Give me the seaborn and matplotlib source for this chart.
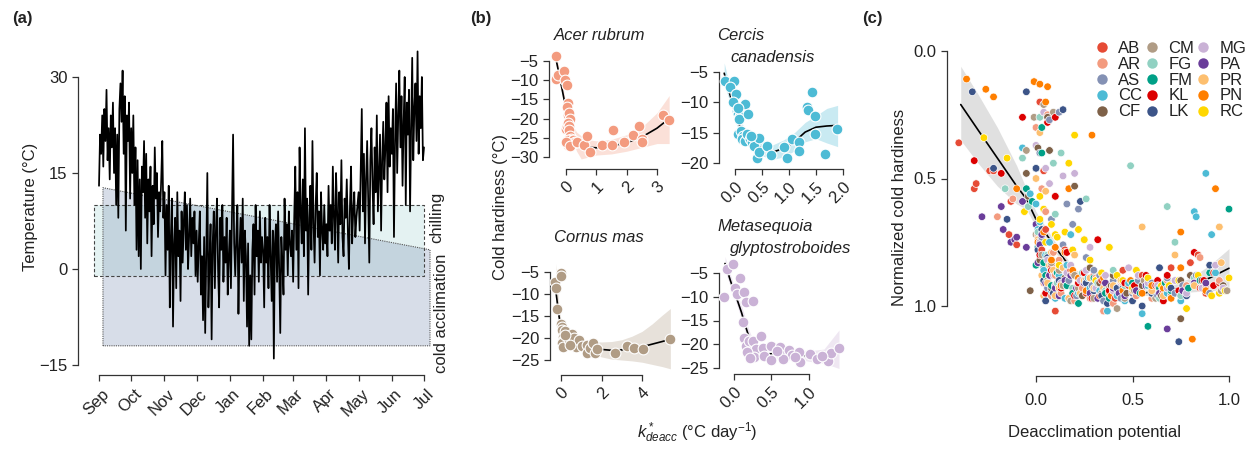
import numpy as np
import pandas as pd
import matplotlib.pyplot as plt
import seaborn as sns
from matplotlib.lines import Line2D
from matplotlib.transforms import ScaledTranslation

# ---- panel (a): daily temperature, 1 Sep to 1 Jul ----
temp_sep = [13, 21, 18, 24, 16, 25, 20, 28, 17, 22, 14, 24, 19, 26, 15, 22, 10, 21, 8, 25, 29, 23, 31, 18, 27, 6, 24, 20, 26, 11]
temp_oct = [22, 15, 24, 10, 19, 3, 17, 2, 14, 0, 16, 12, 20, 8, 18, 4, 14, 9, 16, 2, 13, 7, 19, 11, 15, 5, 12, 9, 14, 20, 8]
temp_nov = [12, -1, 10, 3, 13, -6, 5, 11, -9, 4, 8, -3, 12, 2, 6, -5, 9, 1, 7, 12, 3, 10, 0, 5, 11, 2, 8, 4, 9, -1]
temp_dec = [6, -2, 4, 9, -4, 2, -8, 5, -10, 3, 15, -6, 1, 7, -11, 4, 9, -3, 6, 11, 0, -6, 8, 3, 10, -2, 5, 1, 8, -4, 2]
temp_jan = [6, -3, 9, 21, 4, -1, 5, 10, -7, 3, 8, 1, 11, -5, 6, 2, -9, 4, -12, -1, -11, 3, 7, -4, 10, 2, 6, -2, 9, 1, 5]
temp_feb = [3, -6, 8, 1, 5, -3, 10, 2, -5, 6, -14, 4, 7, -2, 9, 0, -10, 5, 1, -4, 11, 3, 7, -1, 9, 4, 2, 6]
temp_mar = [-2, 8, 16, 3, 12, -3, 19, 9, 4, 14, 2, 22, 6, 11, -4, 8, 13, 3, 20, 7, 1, 10, 15, 5, 9, -1, 12, 6, 3, 10, 4]
temp_apr = [7, 2, 13, 6, 10, 4, 16, 8, 3, 15, 9, 1, 12, 7, 17, 5, 2, 11, 8, 14, 6, 0, 10, 16, 4, 9, 12, 5, 8, 10]
temp_may = [12, 6, 16, 25, 9, 18, 4, 14, 20, 10, 1, 17, 22, 13, 7, 19, 12, 24, 9, 15, 21, 6, 17, 23, 14, 19, 26, 12, 27, 16, 22]
temp_jun = [18, 25, 5, 20, 29, 15, 24, 31, 19, 27, 13, 23, 30, 10, 26, 21, 28, 9, 22, 33, 17, 25, 29, 20, 34, 18, 27, 22, 30, 17]
temp_jul = [19]
month_labels = ['Sep', 'Oct', 'Nov', 'Dec', 'Jan', 'Feb', 'Mar', 'Apr', 'May', 'Jun', 'Jul']
month_days = [0, 30, 61, 91, 122, 153, 181, 212, 242, 273, 303]

# shaded temperature windows
chill_x = [-4.7, 303]
chill_y = [-1.1, 10]
accl_x = [3.7, 3.7, 308.6, 308.6]
accl_y = [-12, 12.7, 3.0, -12]

# ---- panel (b): cold hardiness vs k*deacc for four species ----
ar_x = [-0.33, -0.33, -0.27, -0.08, -0.02, 0.03, 0.05, 0.04, 0.08, 0.10, 0.12, 0.0, 0.02, 0.06, 0.09, 0.11, 0.14, 0.17, 0.20, 0.05,
        0.08, 0.15, 0.22, 0.26, 0.30, 0.00, 0.12, 0.35, 0.58, 0.70, 0.78, 1.20, 1.50, 1.55, 1.90, 2.20, 2.40, 2.50, 2.50, 3.20, 3.40]
ar_y = [-3.6, -9.7, -8.7, -7.5, -10.0, -11.3, -16.0, -17.0, -19.0, -18.5, -20.2, -22.7, -21.8, -21.2, -22.0, -23.0, -24.5, -25.2, -26.0, -25.6,
        -26.8, -26.0, -25.5, -26.4, -26.0, -26.2, -27.2, -26.0, -26.8, -24.5, -28.7, -27.0, -27.0, -23.0, -26.0, -24.4, -21.8, -25.2, -26.0, -19.0, -20.3]
ar_fit_x = [-0.33, -0.2, -0.1, 0.0, 0.1, 0.2, 0.35, 0.5, 0.75, 1.0, 1.5, 2.0, 2.5, 3.0, 3.4]
ar_fit_y = [-4.5, -9.5, -13.5, -17.5, -21.0, -23.5, -25.8, -26.8, -27.5, -27.6, -27.2, -26.3, -24.8, -22.5, -20.0]
ar_lo = [-6, -11, -15, -19, -22.5, -25.5, -28.5, -30.5, -30.0, -29.5, -29.2, -28.5, -27.5, -26.5, -26.5]
ar_hi = [-3, -8, -12, -16, -19.5, -21.5, -23.5, -24.5, -25.5, -25.8, -25.4, -24.2, -22.2, -18.5, -14.0]

cc_x = [-0.19, -0.02, -0.10, 0.02, -0.03, 0.04, 0.06, 0.08, 0.10, 0.05, 0.12, 0.15, 0.08, 0.19, 0.25, 0.13, 0.18, 0.22, 0.28, 0.32,
        0.35, 0.40, 0.44, 0.44, 0.60, 0.66, 0.90, 0.96, 1.05, 1.19, 1.19, 1.34, 1.36, 1.42, 1.48, 1.48, 1.67, 1.88, 0.06, 0.30]
cc_y = [-6.5, -6.5, -7.5, -8.7, -10.0, -11.5, -12.0, -12.6, -12.2, -15.2, -14.8, -15.5, -12.8, -10.2, -12.0, -16.0, -16.4, -15.2, -16.0, -16.5,
        -17.2, -19.2, -15.8, -18.2, -17.2, -18.6, -17.4, -19.2, -16.0, -16.6, -18.0, -10.7, -11.3, -8.3, -12.2, -15.2, -18.5, -14.4, -11.0, -15.6]
cc_fit_x = [-0.2, -0.1, 0.0, 0.1, 0.2, 0.35, 0.5, 0.7, 0.9, 1.1, 1.3, 1.5, 1.7, 1.9]
cc_fit_y = [-5.2, -8.5, -11.8, -14.2, -15.6, -16.8, -17.6, -18.2, -17.6, -16.5, -14.9, -14.1, -13.9, -13.8]
cc_lo = [-7.0, -9.8, -13.0, -15.3, -16.7, -17.9, -18.8, -19.4, -19.0, -18.0, -16.5, -16.0, -16.7, -17.3]
cc_hi = [-3.5, -7.2, -10.6, -13.1, -14.5, -15.7, -16.4, -17.0, -16.2, -15.0, -13.3, -12.2, -11.0, -10.5]

cm_x = [-0.30, -0.25, -0.20, -0.01, 0.02, 0.00, 0.03, 0.05, 0.08, 0.12, 0.15, 0.18, 0.22, 0.25, 0.30, 0.35, 0.05, 0.10, 0.40, 0.55,
        0.66, 0.74, 0.90, 1.05, 1.26, 1.26, 1.45, 1.59, 1.67, 1.79, 2.66, 3.24, 3.60, 4.06, 5.37, 0.20, 0.45]
cm_y = [-7.2, -8.7, -13.3, -5.2, -5.8, -16.8, -17.5, -18.2, -19.8, -20.6, -21.5, -18.5, -20.0, -20.2, -21.7, -21.0, -21.2, -22.0, -20.4, -19.2,
        -20.1, -22.0, -20.5, -21.8, -21.6, -23.3, -22.3, -21.2, -23.3, -22.4, -23.3, -21.9, -22.3, -22.4, -20.2, -19.3, -21.5]
cm_fit_x = [-0.25, -0.1, 0.0, 0.2, 0.5, 1.0, 1.5, 2.0, 2.5, 3.0, 3.5, 4.0, 4.5, 5.0, 5.4]
cm_fit_y = [-9.5, -15.0, -17.5, -19.3, -20.6, -21.6, -22.2, -22.6, -22.8, -22.7, -22.4, -22.0, -21.4, -20.8, -20.3]
cm_lo = [-12.5, -17.0, -19.0, -20.6, -21.8, -22.8, -23.6, -24.3, -24.8, -25.0, -25.2, -25.5, -26.0, -26.5, -27.0]
cm_hi = [-3.0, -13.0, -16.0, -18.0, -19.4, -20.4, -20.8, -20.9, -20.8, -20.4, -19.6, -18.5, -16.8, -14.8, -13.3]

mg_x = [-0.13, -0.09, -0.01, 0.01, 0.04, 0.08, 0.14, 0.16, 0.25, 0.12, 0.14, 0.16, 0.20, 0.25, 0.29, 0.36, 0.27, 0.18, 0.22, 0.39,
        0.50, 0.62, 0.68, 0.74, 0.78, 0.87, 0.88, 1.02, 1.11, 1.26, 1.30, 1.40, 0.40, 0.50, 0.65, 0.82, 1.18, 0.58]
mg_y = [-10.1, -4.2, -3.1, -8.1, -9.5, -6.0, -9.1, -11.1, -10.8, -15.4, -18.6, -20.4, -19.3, -19.3, -21.0, -18.2, -22.6, -21.6, -22.9, -20.8,
        -20.4, -20.5, -22.2, -21.3, -22.2, -21.7, -23.8, -22.1, -23.2, -23.6, -21.9, -20.7, -22.5, -23.4, -23.0, -22.6, -22.4, -21.4]
mg_fit_x = [-0.12, -0.05, 0.0, 0.05, 0.1, 0.15, 0.2, 0.25, 0.3, 0.4, 0.5, 0.6, 0.8, 1.0, 1.2, 1.4]
mg_fit_y = [-3.0, -6.5, -8.8, -11.0, -13.3, -16.0, -18.5, -20.3, -21.3, -22.1, -22.0, -21.8, -22.0, -22.5, -22.5, -20.9]
mg_lo = [-4.5, -7.8, -10.0, -12.3, -14.8, -17.6, -20.0, -21.6, -22.5, -23.2, -23.1, -22.9, -23.0, -23.6, -24.0, -25.1]
mg_hi = [-1.5, -5.2, -7.6, -9.7, -11.8, -14.4, -17.0, -19.0, -20.1, -21.0, -20.9, -20.7, -21.0, -21.4, -21.0, -17.0]

# ---- panel (c): normalized cold hardiness vs deacclimation potential ----
c_codes = ['AB', 'AR', 'AS', 'CC', 'CF', 'CM', 'FG', 'FM', 'KL', 'LK', 'MG', 'PA', 'PR', 'PN', 'RC']
c_colors = ['#E64B35', '#F39B7F', '#8491B4', '#4DBBD5', '#7E6148', '#B09C85', '#91D1C2', '#00A087',
            '#DC0000', '#3C5488', '#CAB2D6', '#6A3D9A', '#FDBF6F', '#FF7F00', '#FFD700']

ab_x = [-0.40, -0.32, -0.31, -0.24, -0.22, -0.13, -0.14, -0.10, 0.02, 0.04, 0.05, 0.08, 0.15, 0.22, 0.30, 0.45, 0.62, 0.70, 0.80, 0.84, 0.85, 0.88, 0.95, 0.10, 0.33,
        0.03, 0.07, 0.12, 0.18, 0.26, 0.34, 0.41, 0.48, 0.55, 0.66, 0.75, 0.92]
ab_y = [0.36, 0.54, 0.52, 0.47, 0.47, 0.59, 0.72, 0.76, 0.20, 0.47, 0.70, 0.84, 0.78, 0.92, 0.88, 0.86, 0.92, 0.85, 0.83, 0.80, 0.93, 0.95, 0.91, 1.02, 0.96,
        0.78, 0.88, 0.93, 0.86, 0.95, 0.90, 0.97, 0.92, 0.88, 0.94, 0.96, 0.87]
ar2_x = [-0.12, 0.00, 0.03, 0.05, 0.06, 0.08, 0.10, 0.12, 0.16, 0.20, 0.28, 0.35, 0.55, 0.78, 0.85, 0.95, -0.20, 0.02, 0.40, 0.60,
         0.01, 0.04, 0.09, 0.13, 0.19, 0.24, 0.31, 0.38, 0.45, 0.52, 0.68, 0.88]
ar2_y = [0.58, 0.30, 0.54, 0.63, 0.25, 0.96, 0.88, 0.82, 0.92, 0.98, 0.97, 1.02, 0.93, 0.92, 0.81, 0.90, 0.65, 0.76, 0.99, 0.97,
         0.72, 0.91, 0.79, 0.95, 0.87, 0.93, 0.89, 0.95, 0.91, 0.96, 0.90, 0.93]
as_x = [0.02, 0.07, 0.12, 0.16, 0.19, 0.22, 0.25, 0.08, 0.14, 0.30, 0.40, 0.50, 0.60, 0.68, 0.72, 0.83, 0.90, 0.35, 0.04, 0.26,
        0.03, 0.06, 0.11, 0.17, 0.21, 0.29, 0.33, 0.44, 0.53, 0.63, 0.76]
as_y = [0.40, 0.27, 0.24, 0.60, 0.68, 0.62, 0.74, 0.66, 0.76, 0.86, 0.90, 0.95, 0.91, 0.89, 0.95, 0.88, 0.95, 0.98, 0.85, 0.81,
        0.73, 0.93, 0.87, 0.90, 0.96, 0.92, 0.88, 0.97, 0.90, 0.96, 0.92]
cc2_x = [-0.07, -0.03, 0.00, 0.02, 0.05, 0.08, 0.12, 0.18, 0.28, 0.37, 0.42, 0.55, 0.75, 0.82, 0.83, 0.88, 0.91, 0.93, 0.48, 0.15,
         0.01, 0.04, 0.07, 0.10, 0.16, 0.22, 0.27, 0.33, 0.46, 0.58, 0.68]
cc2_y = [0.38, 0.56, 0.60, 0.67, 0.80, 0.94, 0.88, 0.72, 0.93, 1.02, 0.96, 1.03, 0.98, 0.63, 0.65, 0.48, 0.72, 0.87, 0.91, 0.97,
         0.70, 0.86, 0.75, 0.97, 0.84, 0.95, 0.89, 0.94, 0.98, 0.92, 0.95]
cf_x = [-0.05, -0.04, 0.01, 0.06, 0.07, 0.20, 0.10, 0.28, 0.39, 0.65, 0.75, 0.75, 0.80, 0.97, -0.03, 0.40, 0.55,
        0.02, 0.08, 0.15, 0.24, 0.33, 0.47, 0.60, 0.86]
cf_y = [0.48, 0.57, 0.38, 0.26, 0.39, 0.53, 0.57, 0.85, 0.92, 0.96, 0.90, 1.05, 0.88, 0.92, 0.94, 0.88, 0.92,
        0.82, 0.93, 0.89, 0.96, 0.91, 0.95, 0.93, 0.90]
cm2_x = [-0.01, 0.04, 0.09, 0.03, 0.06, 0.12, 0.22, 0.30, 0.38, 0.42, 0.51, 0.62, 0.78, 0.96, 0.18, -0.05, 0.10,
         0.00, 0.05, 0.08, 0.14, 0.20, 0.26, 0.34, 0.46, 0.56, 0.70, 0.86, 0.99]
cm2_y = [0.26, 0.21, 0.24, 0.80, 0.90, 0.86, 0.93, 0.97, 0.93, 1.01, 0.94, 0.97, 0.95, 0.94, 0.98, 0.39, 0.77,
         0.72, 0.95, 0.83, 0.92, 0.88, 0.90, 0.95, 0.97, 0.90, 0.96, 0.93, 0.94]
fg_x = [-0.16, -0.07, -0.04, 0.02, 0.10, 0.09, 0.13, 0.26, 0.49, 0.68, 0.72, 0.40, 0.52, 0.14, 0.28, 0.75, 0.32, 0.82,
        0.01, 0.06, 0.11, 0.19, 0.24, 0.36, 0.46, 0.58, 0.64]
fg_y = [0.54, 0.42, 0.61, 0.26, 0.64, 0.44, 0.40, 0.58, 0.45, 0.61, 0.75, 0.86, 0.86, 0.85, 0.89, 0.96, 0.91, 0.89,
        0.71, 0.80, 0.91, 0.93, 0.87, 0.94, 0.92, 0.89, 0.97]
fm_x = [-0.02, -0.05, 0.00, 0.03, 0.03, 0.00, 0.05, 0.16, 0.26, 0.36, 0.38, 0.50, 0.58, 0.64, 0.70, 0.85, 1.00, 0.22,
        0.01, 0.04, 0.08, 0.11, 0.19, 0.30, 0.42, 0.54, 0.67, 0.79, 0.90]
fm_y = [0.59, 0.54, 0.46, 0.40, 0.30, 0.84, 0.88, 0.92, 0.91, 0.95, 0.97, 0.91, 1.08, 0.93, 0.94, 0.90, 0.62, 0.99,
        0.77, 0.83, 0.92, 0.87, 0.95, 0.89, 0.93, 0.95, 0.91, 0.93, 0.87]
kl_x = [-0.32, -0.18, -0.07, 0.06, 0.10, 0.10, 0.16, 0.25, 0.32, 0.46, 0.57, 0.63, 0.68, 0.66, 0.82, 0.87, 0.20, 0.05,
        0.02, 0.08, 0.13, 0.22, 0.29, 0.38, 0.51, 0.60, 0.74, 0.92]
kl_y = [0.43, 0.48, 0.26, 0.28, 0.26, 0.57, 0.79, 0.87, 0.74, 0.91, 0.88, 0.90, 0.88, 0.98, 0.79, 0.90, 0.96, 0.95,
        0.80, 0.86, 0.93, 0.91, 0.97, 0.94, 0.92, 0.95, 0.94, 0.92]
lk_x = [-0.33, -0.22, -0.15, -0.05, 0.00, 0.03, 0.06, 0.14, 0.23, 0.30, 0.37, 0.55, 0.64, 0.74, 0.90, 0.12, 0.45, 0.05,
        0.01, 0.04, 0.09, 0.17, 0.26, 0.34, 0.42, 0.50, 0.60, 0.70, 0.78]
lk_y = [0.16, 0.46, 0.66, 0.16, 0.46, 0.70, 0.81, 0.23, 0.59, 0.94, 0.99, 1.00, 0.85, 1.14, 0.84, 0.90, 0.93, 0.98,
        0.78, 0.90, 0.95, 0.97, 0.91, 0.96, 0.93, 0.98, 0.95, 0.93, 0.96]
mg2_x = [0.00, 0.04, 0.05, 0.07, 0.14, 0.20, 0.28, 0.18, 0.26, 0.36, 0.48, 0.58, 0.68, 0.78, 0.93, 0.97, 0.10, 0.40,
         0.02, 0.06, 0.09, 0.13, 0.16, 0.23, 0.31, 0.44, 0.53, 0.63, 0.72, 0.86]
mg2_y = [0.37, 0.24, 0.46, 0.52, 0.49, 0.48, 0.77, 0.84, 0.86, 0.88, 0.85, 0.91, 0.93, 0.95, 0.84, 0.93, 0.92, 0.94,
         0.75, 0.82, 0.88, 0.91, 0.87, 0.90, 0.93, 0.91, 0.88, 0.92, 0.90, 0.93]
pa_x = [-0.28, -0.18, -0.17, -0.13, -0.11, -0.10, -0.07, -0.05, 0.00, 0.02, 0.05, 0.10, 0.18, 0.28, 0.40, 0.46, 0.68, 0.82, 0.25, 0.52,
        0.01, 0.03, 0.07, 0.12, 0.15, 0.21, 0.32, 0.36, 0.43, 0.57, 0.64, 0.76, 0.88]
pa_y = [0.65, 0.61, 0.70, 0.75, 0.74, 0.73, 0.59, 0.77, 0.68, 0.76, 0.91, 0.93, 0.88, 0.95, 0.93, 0.96, 1.09, 0.91, 0.91, 0.94,
        0.83, 0.72, 0.88, 0.96, 0.90, 0.93, 0.97, 0.91, 0.95, 0.92, 0.95, 0.94, 0.91]
pr_x = [0.00, 0.02, 0.05, 0.08, 0.10, 0.14, 0.20, 0.30, 0.40, 0.55, 0.72, 0.95, 0.96, 0.04, 0.25, 0.60, 0.07,
        0.01, 0.03, 0.06, 0.09, 0.12, 0.17, 0.23, 0.28, 0.35, 0.44, 0.50, 0.66, 0.82]
pr_y = [0.50, 0.32, 0.55, 0.79, 0.96, 0.85, 0.80, 0.93, 0.92, 0.69, 0.80, 0.69, 0.83, 0.96, 0.90, 0.94, 0.84,
        0.74, 0.88, 0.91, 0.86, 0.93, 0.97, 0.95, 0.89, 0.93, 0.90, 0.94, 0.96, 0.92]
pn_x = [-0.36, -0.26, -0.22, -0.10, -0.01, 0.02, 0.06, 0.05, 0.17, 0.29, 0.08, 0.15, 0.22, 0.35, 0.45, 0.60, 0.75, 0.81, 0.93, 0.75,
        0.01, 0.04, 0.10, 0.13, 0.19, 0.26, 0.31, 0.39, 0.49, 0.55, 0.66, 0.70, 0.88]
pn_y = [0.11, 0.15, 0.18, 0.54, 0.12, 0.13, 0.14, 0.20, 0.54, 0.33, 0.82, 0.79, 0.89, 0.89, 0.94, 0.92, 0.71, 1.13, 0.54, 0.85,
        0.75, 0.71, 0.77, 0.92, 0.86, 0.94, 0.90, 0.96, 0.90, 0.95, 0.93, 0.97, 0.94]
rc_x = [-0.27, -0.15, -0.06, 0.02, 0.04, 0.10, 0.20, 0.17, 0.22, 0.38, 0.31, 0.42, 0.65, 0.74, 0.78, 0.91, 0.98, 1.00, 0.12, 0.50,
        0.02, 0.05, 0.08, 0.11, 0.15, 0.19, 0.25, 0.28, 0.34, 0.45, 0.52, 0.58, 0.69, 0.84, 0.95]
rc_y = [0.34, 0.42, 0.63, 0.57, 0.62, 0.72, 0.33, 0.44, 0.70, 0.77, 0.90, 0.88, 0.92, 0.90, 1.01, 0.96, 0.94, 0.89, 0.84, 0.93,
        0.66, 0.75, 0.68, 0.73, 0.71, 0.78, 0.74, 0.82, 0.87, 0.90, 0.86, 0.89, 0.92, 0.88, 0.95]

c_fit_x = [-0.39, -0.3, -0.2, -0.1, -0.05, 0.0, 0.1, 0.2, 0.3, 0.4, 0.5, 0.6, 0.7, 0.8, 0.9, 1.0]
c_fit_y = [0.21, 0.31, 0.42, 0.53, 0.58, 0.66, 0.77, 0.87, 0.92, 0.945, 0.95, 0.947, 0.937, 0.918, 0.89, 0.852]
c_lo = [0.06, 0.17, 0.30, 0.45, 0.54, 0.63, 0.75, 0.855, 0.905, 0.935, 0.94, 0.935, 0.92, 0.89, 0.84, 0.775]
c_hi = [0.35, 0.44, 0.53, 0.60, 0.62, 0.69, 0.79, 0.885, 0.935, 0.955, 0.96, 0.958, 0.952, 0.945, 0.94, 0.935]

# ---------------------------------------------------------------
sns.set_style('ticks')
plt.rcParams['font.family'] = ['Liberation Sans', 'DejaVu Sans']
plt.rcParams['mathtext.fontset'] = 'custom'
plt.rcParams['mathtext.rm'] = 'Liberation Sans'
plt.rcParams['mathtext.it'] = 'Liberation Sans:italic'

W, H = 1248, 449
fig = plt.figure(figsize=(W / 100, H / 100), dpi=100)
FS = 12
INK = '#222222'


def px_axes(l, t, r, b):
    return fig.add_axes([l / W, 1 - b / H, (r - l) / W, (b - t) / H])


def lim(p0, v0, p1, v1, pa, pb):
    k = (v1 - v0) / (p1 - p0)
    return v0 + (pa - p0) * k, v0 + (pb - p0) * k


def shift_xlabels(ax, dx, dy):
    # nudge rotated tick labels by a few pixels, like R's srt=45 placement
    off = ScaledTranslation(dx / 100, -dy / 100, fig.dpi_scale_trans)
    for lab in ax.get_xticklabels():
        lab.set_rotation(45)
        lab.set_ha('right')
        lab.set_va('center')
        lab.set_rotation_mode('anchor')
        lab.set_transform(lab.get_transform() + off)


def r_axes(ax, xt, yt):
    ax.set_facecolor('none')
    for s in ['top', 'right']:
        ax.spines[s].set_visible(False)
    for s in ['left', 'bottom']:
        ax.spines[s].set_color('#333333')
        ax.spines[s].set_linewidth(0.9)
    ax.spines['left'].set_bounds(min(yt), max(yt))
    ax.spines['bottom'].set_bounds(min(xt), max(xt))
    ax.set_xticks(xt)
    ax.set_yticks(yt)
    ax.tick_params(direction='out', length=4.5, width=0.9, color='#333333',
                   labelsize=FS, labelcolor=INK, pad=3)
    ax.set_xlabel('')
    ax.set_ylabel('')


def ftext(x, y, s, **kw):
    kw.setdefault('fontsize', FS)
    kw.setdefault('color', INK)
    fig.text(x / W, 1 - y / H, s, **kw)


# ---- (a) ----
temps = temp_sep + temp_oct + temp_nov + temp_dec + temp_jan + temp_feb + temp_mar + temp_apr + temp_may + temp_jun + temp_jul
days = np.arange(len(temps))
ax = px_axes(78, 40, 440, 375)
ax.fill_between(chill_x, chill_y[0], chill_y[1], color='#a8d4d6', alpha=0.3, lw=0, zorder=1)
ax.plot([chill_x[0], chill_x[1], chill_x[1], chill_x[0], chill_x[0]],
        [chill_y[0], chill_y[0], chill_y[1], chill_y[1], chill_y[0]],
        ls=(0, (3, 2)), color='#444444', lw=0.8, zorder=2)
ax.fill(accl_x, accl_y, color='#7c8fb3', alpha=0.3, lw=0, zorder=1)
ax.plot(accl_x + accl_x[:1], accl_y + accl_y[:1], ls=(0, (1, 1)), color='#555555', lw=0.8, zorder=2)
sns.lineplot(x=days, y=temps, color='black', lw=1.25, sort=False, estimator=None, ax=ax, zorder=3)
ax.set_xlim(*lim(99, 0, 424, 303, 78, 440))
yt, yb = lim(77, 30, 365, -15, 40, 375)
ax.set_ylim(yb, yt)
r_axes(ax, month_days, [-15, 0, 15, 30])
ax.set_xticklabels(month_labels)
shift_xlabels(ax, 8, 6)
ftext(30, 207, 'Temperature (°C)', rotation=90, ha='center', va='center')
ftext(437, 217, 'chilling', rotation=90, ha='center', va='center')
ftext(442, 313, 'cold acclimation', rotation=90, ha='center', va='center')

# ---- (b) ----
sub = [
    (ar_x, ar_y, ar_fit_x, ar_fit_y, ar_lo, ar_hi, '#F39B7F', (549, 45, 675, 169), (566, 0, 657, 3), (61, -5, 157, -30),
     [0, 1, 2, 3], [-30, -25, -20, -15, -10, -5]),
    (cc_x, cc_y, cc_fit_x, cc_fit_y, cc_lo, cc_hi, '#4DBBD5', (719, 60, 850, 169), (735, 0, 843, 2), (72, -5, 163, -20),
     [0, 0.5, 1, 1.5, 2], [-20, -15, -10, -5]),
    (cm_x, cm_y, cm_fit_x, cm_fit_y, cm_lo, cm_hi, '#B09C85', (550, 255, 675, 375), (561, 0, 642, 4), (272, -5, 360, -25),
     [0, 2, 4], [-25, -20, -15, -10, -5]),
    (mg_x, mg_y, mg_fit_x, mg_fit_y, mg_lo, mg_hi, '#CAB2D6', (719, 255, 850, 374), (734, 0, 809, 1), (273, -5, 368, -25),
     [0, 0.5, 1.0], [-25, -20, -15, -10, -5]),
]
for px, py, fx, fy, lo, hi, col, box, xm, ym, xt, ytk in sub:
    ax = px_axes(*box)
    ax.fill_between(fx, lo, hi, color=col, alpha=0.3, lw=0, zorder=1)
    sns.lineplot(x=fx, y=fy, color='black', lw=1.2, sort=False, estimator=None, ax=ax, zorder=2)
    sns.scatterplot(x=px, y=py, color=col, s=60, edgecolor='white', linewidth=0.8, ax=ax, zorder=3)
    ax.set_xlim(*lim(xm[0], xm[1], xm[2], xm[3], box[0], box[2]))
    a, b = lim(ym[0], ym[1], ym[2], ym[3], box[1], box[3])
    ax.set_ylim(b, a)
    r_axes(ax, xt, ytk)
    if isinstance(xt[1], float):
        ax.set_xticklabels([f'{v:.1f}' for v in xt])
    shift_xlabels(ax, 5, 5)

ftext(600, 36, 'Acer rubrum', style='italic', ha='center', va='center')
ftext(717, 36, 'Cercis', style='italic', ha='left', va='center')
ftext(730, 58, 'canadensis', style='italic', ha='left', va='center')
ftext(599, 238, 'Cornus mas', style='italic', ha='center', va='center')
ftext(717, 227, 'Metasequoia', style='italic', ha='left', va='center')
ftext(730, 249, 'glyptostroboides', style='italic', ha='left', va='center')
ftext(501, 207, 'Cold hardiness (°C)', rotation=90, ha='center', va='center')
ftext(697, 433, r'$k^*_{deacc}$ (°C day$^{-1}$)', ha='center', va='center')

# ---- (c) ----
c_pairs = [(ab_x, ab_y), (ar2_x, ar2_y), (as_x, as_y), (cc2_x, cc2_y), (cf_x, cf_y), (cm2_x, cm2_y), (fg_x, fg_y),
           (fm_x, fm_y), (kl_x, kl_y), (lk_x, lk_y), (mg2_x, mg2_y), (pa_x, pa_y), (pr_x, pr_y), (pn_x, pn_y), (rc_x, rc_y)]
df = pd.concat([pd.DataFrame({'x': xs, 'y': ys, 'code': c}) for c, (xs, ys) in zip(c_codes, c_pairs)])
df = df.sort_values('x', kind='stable')
pal = dict(zip(c_codes, c_colors))

ax = px_axes(947, 35, 1240, 376)
ax.fill_between(c_fit_x, c_lo, c_hi, color='#d0d0d0', alpha=0.65, lw=0, zorder=1)
sns.lineplot(x=c_fit_x, y=c_fit_y, color='black', lw=1.2, sort=False, estimator=None, ax=ax, zorder=2)
sns.scatterplot(data=df, x='x', y='y', hue='code', palette=pal, s=30, edgecolor='white', linewidth=0.5,
                legend=False, ax=ax, zorder=3)
ax.set_xlim(*lim(1036, 0, 1229, 1, 947, 1240))
a, b = lim(51, 0, 306, 1, 35, 376)
ax.set_ylim(b, a)
r_axes(ax, [0, 0.5, 1.0], [0, 0.5, 1.0])
ax.set_xticklabels(['0.0', '0.5', '1.0'])
ax.set_yticklabels(['0.0', '0.5', '1.0'])
ax.tick_params(axis='x', pad=8)

handles = [Line2D([], [], ls='', marker='o', markersize=7.5, markerfacecolor=c, markeredgecolor='none')
           for c in c_colors]
fig.legend(handles, c_codes, ncol=3, loc='upper left', bbox_to_anchor=(1095 / W, 1 - 41 / H),
           frameon=False, fontsize=FS, labelspacing=0.05, handlelength=0.8, handletextpad=0.6,
           columnspacing=0.15, borderpad=0, borderaxespad=0, labelcolor=INK)

ftext(900, 207, 'Normalized cold hardiness', rotation=90, ha='center', va='center')
ftext(1095, 433, 'Deacclimation potential', ha='center', va='center')

ftext(12, 18, '(a)', fontweight='bold', ha='left', va='center')
ftext(470, 18, '(b)', fontweight='bold', ha='left', va='center')
ftext(862, 18, '(c)', fontweight='bold', ha='left', va='center')

fig.savefig('out.png', dpi=100)
